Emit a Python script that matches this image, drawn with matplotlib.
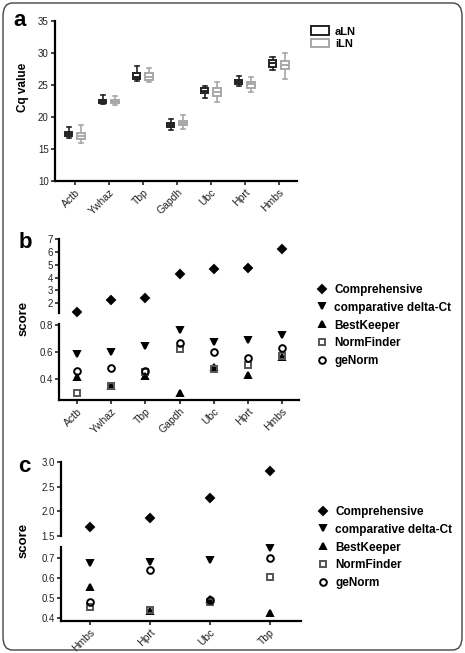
import matplotlib
matplotlib.use("Agg")
import matplotlib.pyplot as plt
from matplotlib.patches import FancyBboxPatch, Patch
from matplotlib.lines import Line2D
import numpy as np

plt.rcParams['font.family'] = ['Liberation Sans', 'DejaVu Sans']

# ---------------- data ----------------
GENES_A = ["Actb", "Ywhaz", "Tbp", "Gapdh", "Ubc", "Hprt", "Hmbs"]
# box stats (whislo, q1, med, q3, whishi)
ALN_LO = [16.7, 22.0, 25.6, 18.0, 22.9, 24.8, 27.3]
ALN_Q1 = [17.0, 22.2, 26.0, 18.4, 23.7, 25.2, 27.8]
ALN_MED = [17.3, 22.4, 26.3, 18.7, 24.1, 25.5, 28.4]
ALN_Q3 = [17.6, 22.7, 26.8, 19.0, 24.5, 25.8, 28.9]
ALN_HI = [18.5, 23.5, 28.0, 19.7, 24.9, 26.4, 29.4]

ILN_LO = [16.0, 21.9, 25.5, 18.1, 22.3, 23.9, 25.9]
ILN_Q1 = [16.5, 22.2, 25.8, 18.7, 23.3, 24.6, 27.5]
ILN_MED = [17.0, 22.4, 26.3, 19.0, 23.9, 25.1, 28.1]
ILN_Q3 = [17.5, 22.7, 26.8, 19.4, 24.5, 25.4, 28.75]
ILN_HI = [18.7, 23.3, 27.7, 20.3, 25.4, 26.2, 30.0]

GENES_B = ["Actb", "Ywhaz", "Tbp", "Gapdh", "Ubc", "Hprt", "Hmbs"]
B_COMP = [1.3, 2.23, 2.4, 4.3, 4.7, 4.72, 6.2]
B_DELTA = [0.585, 0.60, 0.645, 0.763, 0.674, 0.69, 0.726]
B_BEST = [0.415, 0.35, 0.42, 0.30, 0.49, 0.43, 0.56]
B_NORMF = [0.30, 0.35, 0.45, 0.62, 0.475, 0.50, 0.57]
B_GENORM = [0.46, 0.48, 0.46, 0.665, 0.60, 0.555, 0.63]

GENES_C = ["Hmbs", "Hprt", "Ubc", "Tbp"]
C_COMP = [1.68, 1.86, 2.27, 2.82]
C_DELTA = [0.675, 0.68, 0.69, 0.75]
C_BEST = [0.555, 0.435, 0.495, 0.425]
C_NORMF = [0.455, 0.44, 0.48, 0.605]
C_GENORM = [0.48, 0.64, 0.49, 0.70]

METHODS = ["Comprehensive", "comparative delta-Ct", "BestKeeper", "NormFinder", "geNorm"]

W, H = 465, 653
fig = plt.figure(figsize=(W / 100, H / 100), dpi=100)


def px_axes(x0, y0, x1, y1):
    return fig.add_axes([x0 / W, 1 - y1 / H, (x1 - x0) / W, (y1 - y0) / H])


def style(ax, bottom=True):
    for s in ["top", "right"]:
        ax.spines[s].set_visible(False)
    ax.spines["left"].set_linewidth(1.6)
    ax.spines["bottom"].set_linewidth(1.6)
    ax.tick_params(axis="both", direction="out", length=3, width=1.2,
                   labelsize=7, colors="#222222", pad=1.5)
    if not bottom:
        ax.spines["bottom"].set_visible(False)
        ax.set_xticks([])


# border frame
fig.patches.append(FancyBboxPatch((3 / W, 3 / H), (W - 6) / W, (H - 6) / H,
                                  boxstyle="round,pad=0,rounding_size=0.02",
                                  transform=fig.transFigure, fill=False,
                                  edgecolor="#444444", linewidth=1.0))

# ---------------- panel a ----------------
ax = px_axes(55, 21, 297, 181)
style(ax)
x = np.arange(len(GENES_A))
for vals, off, col in [((ALN_LO, ALN_Q1, ALN_MED, ALN_Q3, ALN_HI), -0.19, "#222222"),
                       ((ILN_LO, ILN_Q1, ILN_MED, ILN_Q3, ILN_HI), 0.18, "#a8a8a8")]:
    stats = []
    for i in range(len(GENES_A)):
        stats.append(dict(whislo=vals[0][i], q1=vals[1][i], med=vals[2][i],
                          q3=vals[3][i], whishi=vals[4][i], fliers=[]))
    ax.bxp(stats, positions=x + off, widths=0.22, showfliers=False,
           patch_artist=True,
           boxprops=dict(facecolor="white", edgecolor=col, linewidth=1.4),
           medianprops=dict(color=col, linewidth=1.4),
           whiskerprops=dict(color=col, linewidth=1.2),
           capprops=dict(color=col, linewidth=1.2), capwidths=0.12)
ax.set_xlim(-0.59, 6.53)
ax.set_ylim(10, 35)
ax.set_yticks([10, 15, 20, 25, 30, 35])
ax.set_xticks(x)
ax.set_xticklabels(GENES_A, rotation=45, ha="right", rotation_mode="anchor",
                   fontsize=7.5)
fig.text(23 / W, 1 - 87 / H, "Cq value", rotation=90, ha="center", va="center",
         fontsize=8.5, fontweight="bold")
ax.legend(handles=[Patch(facecolor="white", edgecolor="#222222", lw=1.4, label="aLN"),
                   Patch(facecolor="white", edgecolor="#a8a8a8", lw=1.4, label="iLN")],
          loc="upper left", bbox_to_anchor=(307 / W, 1 - 22 / H),
          bbox_transform=fig.transFigure, frameon=False,
          prop=dict(size=8, weight="bold"), handlelength=1.6, handleheight=0.8,
          handletextpad=0.5, labelspacing=0.2, borderaxespad=0)


# ---------------- broken-axis score panels ----------------
def score_panel(genes, comp, delta, best, normf, genorm, xs, upper_px, lower_px,
                up_lim, lo_lim, up_ticks, lo_ticks, xlim, fmt_up):
    x0, x1 = xs
    up = px_axes(x0, upper_px[0], x1, upper_px[1])
    lo = px_axes(x0, lower_px[0], x1, lower_px[1])
    style(up, bottom=False)
    style(lo)
    xx = np.arange(len(genes))
    series = [(comp, "D", "black", "black", 3.6),
              (delta, "v", "black", "black", 4.8),
              (best, "^", "black", "black", 4.8),
              (normf, "s", "none", "#555555", 4.6),
              (genorm, "o", "none", "black", 4.8)]
    for k, (vals, m, fc, ec, ms) in enumerate(series):
        tgt = up if k == 0 else lo
        tgt.plot(xx, vals, linestyle="none", marker=m, markerfacecolor=fc,
                 markeredgecolor=ec, markersize=ms, markeredgewidth=1.4,
                 clip_on=False, zorder=3)
    for a in (up, lo):
        a.set_xlim(*xlim)
    up.set_ylim(*up_lim)
    lo.set_ylim(*lo_lim)
    up.set_yticks(up_ticks)
    up.set_yticklabels([fmt_up(t) for t in up_ticks])
    lo.set_yticks(lo_ticks)
    lo.set_yticklabels(["%.1f" % t for t in lo_ticks])
    lo.set_xticks(xx)
    lo.set_xticklabels(genes, rotation=45, ha="right", rotation_mode="anchor",
                       fontsize=7.5)
    handles = [Line2D([], [], linestyle="none", marker=m, markerfacecolor=fc,
                      markeredgecolor=ec, markersize=ms, markeredgewidth=1.4)
               for (_, m, fc, ec, ms) in series]
    return up, lo, handles


up_b, lo_b, hb = score_panel(GENES_B, B_COMP, B_DELTA, B_BEST, B_NORMF, B_GENORM,
                             (59, 299), (239, 313), (324, 400),
                             (1.25, 7), (0.245, 0.805), [2, 3, 4, 5, 6, 7],
                             [0.4, 0.6, 0.8], (-0.53, 6.5), lambda t: "%d" % t)
fig.text(24 / W, 1 - 318 / H, "score", rotation=90, ha="center", va="center",
         fontsize=9.5, fontweight="bold")
lo_b.legend(hb, METHODS, loc="upper left", bbox_to_anchor=(312 / W, 1 - 279 / H),
            bbox_transform=fig.transFigure, frameon=False,
            prop=dict(size=8.5, weight="bold"), handlelength=0.9,
            handletextpad=0.6, labelspacing=0.5, borderaxespad=0)

up_c, lo_c, hc = score_panel(GENES_C, C_COMP, C_DELTA, C_BEST, C_NORMF, C_GENORM,
                             (61, 301), (462, 536), (547, 621),
                             (1.5, 3.0), (0.385, 0.755), [1.5, 2.0, 2.5, 3.0],
                             [0.4, 0.5, 0.6, 0.7], (-0.48, 3.52), lambda t: "%.1f" % t)
fig.text(24 / W, 1 - 540 / H, "score", rotation=90, ha="center", va="center",
         fontsize=9.5, fontweight="bold")
lo_c.legend(hc, METHODS, loc="upper left", bbox_to_anchor=(313 / W, 1 - 501 / H),
            bbox_transform=fig.transFigure, frameon=False,
            prop=dict(size=8.5, weight="bold"), handlelength=0.9,
            handletextpad=0.6, labelspacing=0.5, borderaxespad=0)

# panel letters
for lab, (px, py) in zip("abc", [(20, 21), (25, 242), (24, 466)]):
    fig.text(px / W, 1 - py / H, lab, fontsize=16, fontweight="bold",
             ha="center", va="center")

fig.savefig("out.png", dpi=100)
